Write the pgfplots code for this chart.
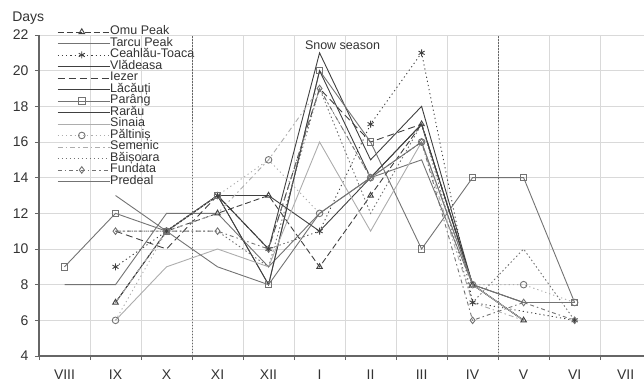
\documentclass[border=0pt]{standalone}
\usepackage{pgfplots}
\pgfplotsset{compat=1.18}
\usepackage{fontspec}
\setmainfont{Liberation Sans}
\definecolor{dk}{gray}{0.25}
\definecolor{md}{gray}{0.45}
\definecolor{lt}{gray}{0.68}
\definecolor{gridc}{gray}{0.85}
\begin{document}
\begin{tikzpicture}
\begin{axis}[
  at={(0,0)}, anchor=south west,
  scale only axis, width=605pt, height=321pt,
  xmin=-0.5, xmax=11.36, ymin=4, ymax=22,
  axis x line*=bottom, axis y line*=left,
  axis line style={draw=black!60, line width=1.2pt, -},
  xtick={0,...,11},
  xticklabels={VIII,IX,X,XI,XII,I,II,III,IV,V,VI,VII},
  major x tick style={draw=none},
  minor xtick={-0.5,0.5,...,10.5},
  minor x tick style={draw=black!60, line width=0.8pt},
  minor tick length=4pt,
  xminorgrids, minor x grid style={draw=gridc, line width=0.9pt},
  ytick={4,6,...,22},
  ymajorgrids, major y grid style={draw=gridc, line width=0.9pt},
  major y tick style={draw=black!60, line width=0.8pt},
  major tick length=4pt,
  tick align=outside,
  /pgf/number format/assume math mode=true,
  ticklabel style={font=\fontsize{14}{14}\selectfont, text=black!80},
  xticklabel style={yshift=-6pt},
  yticklabel style={xshift=-3pt},
  clip=false,
  legend cell align=left,
  legend style={at={(0.03,1.028)}, anchor=north west, draw=none, fill=none,
    inner sep=0pt, row sep=0pt,
    font=\fontsize{12.5}{11.5}\selectfont,
    nodes={inner sep=0pt, text height=8.5pt, text depth=3pt, text=black!80}},
  legend image code/.code={\draw[#1, mark repeat=2, mark phase=2] plot coordinates {(0pt,0pt) (24pt,0pt) (48pt,0pt)};\path (0pt,0pt) -- (52pt,0pt);},
  every axis plot/.append style={line width=0.9pt},
]
% Omu Peak
\addplot[dk, dash pattern=on 6pt off 3pt, mark=triangle, mark size=3.2pt, mark options={solid, fill=white}]
  coordinates {(1,7)(2,11)(3,12)(4,13)(5,9)(6,13)(7,17)(8,8)(9,6)};
\addlegendentry{Omu Peak}
% Tarcu Peak
\addplot[md] coordinates {(0,8)(1,8)(2,12)(3,12)(4,9)(5,12)(6,14)(7,15)(8,8)(9,6)};
\addlegendentry{Tarcu Peak}
% Ceahlau-Toaca
\addplot[dk, dash pattern=on 1.2pt off 3pt, mark=asterisk, mark size=3.5pt, mark options={solid}]
  coordinates {(1,9)(2,11)(3,13)(4,10)(5,11)(6,17)(7,21)(8,7)(10,6)};
\addlegendentry{Ceahlău-Toaca}
% Vladeasa
\addplot[dk] coordinates {(1,7)(2,11)(3,13)(4,10)(5,21)(6,15)(7,18)(8,8)(9,7)(10,7)};
\addlegendentry{Vlădeasa}
% Iezer
\addplot[dk, dash pattern=on 7pt off 4pt] coordinates {(1,11)(2,10)(3,13)(4,10)(5,19)(6,16)(7,17)(8,8)(9,6)};
\addlegendentry{Iezer}
% Lacauti
\addplot[dk] coordinates {(2,11)(3,13)(4,13)(5,11)(6,14)(7,17)(8,8)(9,6)};
\addlegendentry{Lăcăuți}
% Parang
\addplot[md, mark=square, mark size=3.2pt, mark options={fill=white}]
  coordinates {(0,9)(1,12)(2,11)(3,13)(4,8)(5,20)(6,16)(7,10)(8,14)(9,14)(10,7)};
\addlegendentry{Parâng}
% Rarau
\addplot[dk] coordinates {(2,11)(3,13)(4,8)(5,20)(6,14)(7,17)(8,8)};
\addlegendentry{Rarău}
% Sinaia
\addplot[lt] coordinates {(1,6)(2,9)(3,10)(4,9)(5,16)(6,11)(7,16)(8,8)(9,6)};
\addlegendentry{Sinaia}
% Paltinis
\addplot[lt, dash pattern=on 1.2pt off 3pt, mark=o, mark size=3.3pt, mark options={solid, draw=md, fill=white}]
  coordinates {(1,6)(2,11)(3,13)(4,15)(5,12)(6,14)(7,16)(8,8)(9,8)(10,7)};
\addlegendentry{Păltiniș}
% Semenic
\addplot[lt, dash pattern=on 5pt off 3pt on 1.5pt off 3pt] coordinates {(1,7)(2,11)(3,12)(4,15)(5,19)(6,14)(7,16)(8,7)(9,6)};
\addlegendentry{Semenic}
% Baisoara
\addplot[md, dash pattern=on 1.5pt off 2.5pt] coordinates {(1,11)(2,11)(3,11)(4,9)(5,19)(6,12)(7,17)(8,7)(9,10)(10,6)};
\addlegendentry{Băișoara}
% Fundata
\addplot[md, dash pattern=on 4pt off 3pt on 1.5pt off 3pt, mark=diamond, mark size=3.3pt, mark options={solid, fill=white}]
  coordinates {(1,11)(2,11)(3,11)(4,10)(5,19)(6,14)(7,16)(8,6)(9,7)(10,6)};
\addlegendentry{Fundata}
% Predeal
\addplot[md] coordinates {(1,13)(2,11)(3,9)(4,8)(5,12)(6,14)(7,16)(8,8)(9,7)(10,7)};
\addlegendentry{Predeal}
% season boundaries
\addplot[black!60, line width=1pt, dash pattern=on 1.5pt off 1.5pt, forget plot] coordinates {(2.5,4)(2.5,22)};
\addplot[black!60, line width=1pt, dash pattern=on 1.5pt off 1.5pt, forget plot] coordinates {(8.5,4)(8.5,22)};
\node[font=\fontsize{12.5}{12.5}\selectfont, text=black!80] at (axis cs:5.45,21.45) {Snow season};
\node[font=\fontsize{14}{14}\selectfont, text=black!80, anchor=west] at (axis description cs:-0.05,1.053) {Days};
\end{axis}
\pgfresetboundingbox
\path (-39pt,-30pt) rectangle (605pt,356pt);
\end{tikzpicture}
\end{document}
